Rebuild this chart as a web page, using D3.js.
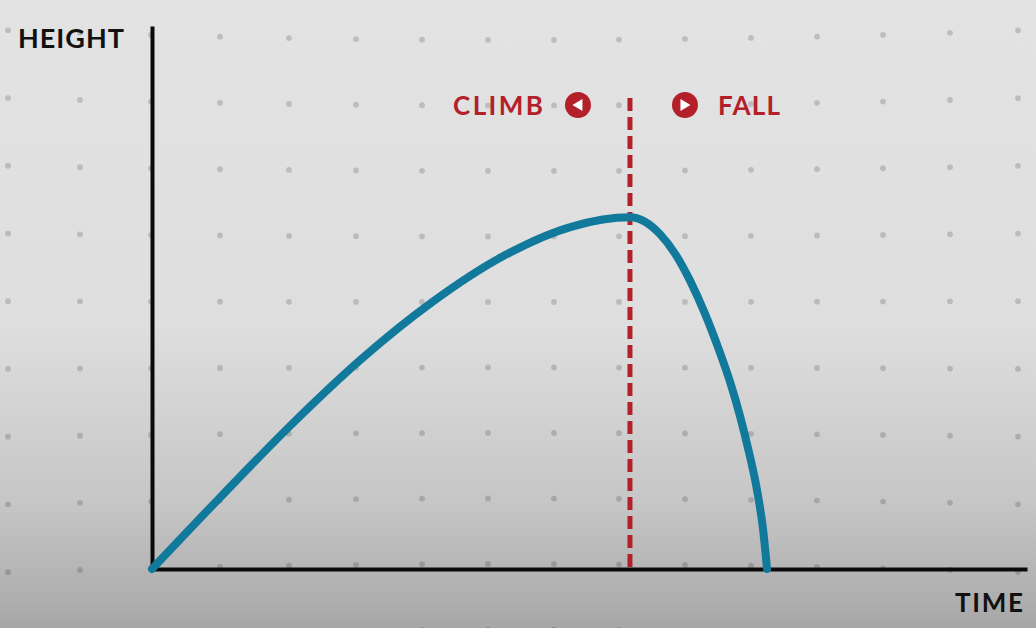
<!DOCTYPE html>
<html>
<head>
<meta charset="utf-8">
<script src="https://cdn.jsdelivr.net/npm/d3@7"></script>
<style>
  html, body { margin: 0; padding: 0; overflow: hidden; background: #e2e2e2; }
  svg { display: block; }
  text { font-family: Lato, "Open Sans", sans-serif; font-weight: 700; }
</style>
</head>
<body>
<svg id="chart" width="1036" height="628"></svg>
<script>
// ---- data (time and height in % of axis extent) ----
const timeVals   = [0, 8.02, 16.04, 24.05, 32.07, 40.09, 48.11, 54.75,
                    56.47, 58.19, 59.91, 61.63, 63.34, 64.83, 66.21, 67.35, 68.38, 69.30, 69.99, 70.45];
const heightVals = [0, 13.6, 26.8, 38.9, 49.3, 57.7, 63.3, 65.0,
                    64.2, 61.9, 58.3, 53.3, 47.2, 41.0, 34.6, 28.3, 21.6, 14.6, 7.4, 0];
const axisTitles  = ["HEIGHT", "TIME"];
const phaseLabels = ["CLIMB", "FALL"];

const W = 1036, H = 628;
const svg = d3.select("#chart");

// background gradient
const defs = svg.append("defs");
const grad = defs.append("linearGradient").attr("id", "bg").attr("x1", 0).attr("y1", 0).attr("x2", 0).attr("y2", 1);
grad.append("stop").attr("offset", "0%").attr("stop-color", "#e3e3e3");
grad.append("stop").attr("offset", "52%").attr("stop-color", "#dedede");
grad.append("stop").attr("offset", "80%").attr("stop-color", "#c6c6c6");
grad.append("stop").attr("offset", "100%").attr("stop-color", "#a7a7a7");
svg.append("rect").attr("width", W).attr("height", H).attr("fill", "url(#bg)");

// decorative dot grid (slightly lens-bowed like the source)
const gridCols = [8, 80, 151, 220, 289, 356, 422, 488, 554, 619, 685, 751, 817, 883, 950, 1018];
const dots = [];
for (let r = 0; r < 10; r++) {
  const base = 30 + 67.8 * r;
  const sag = 10 - 2.3 * r;
  gridCols.forEach(cx => {
    const u = (cx - 515) / 515;
    dots.push([cx, base + sag * (1 - u * u)]);
  });
}
svg.append("g").selectAll("circle").data(dots).join("circle")
  .attr("cx", d => d[0]).attr("cy", d => d[1]).attr("r", 2.9)
  .attr("fill", "rgba(0,0,0,0.16)");

// scales
const x = d3.scaleLinear().domain([0, 100]).range([152, 1025]);
const y = d3.scaleLinear().domain([0, 100]).range([569, 28]);

// axes (lines only)
const xAxis = svg.append("g").attr("transform", `translate(0,${y(0)})`)
  .call(d3.axisBottom(x).tickValues([]).tickSizeOuter(0));
const yAxis = svg.append("g").attr("transform", `translate(${x(0)},0)`)
  .call(d3.axisLeft(y).tickValues([]).tickSizeOuter(0));
[xAxis, yAxis].forEach(g => g.select(".domain")
  .attr("stroke", "#0a0a0a").attr("stroke-width", 4).attr("stroke-linecap", "square"));

// peak
const peakIdx = heightVals.indexOf(d3.max(heightVals));
const peakT = timeVals[peakIdx];

const red = "#b3202a";

// dashed divider at peak
svg.append("line")
  .attr("x1", x(peakT)).attr("x2", x(peakT))
  .attr("y1", 98).attr("y2", y(0))
  .attr("stroke", red).attr("stroke-width", 5)
  .attr("stroke-dasharray", "13,6");

// trajectory
const pts = timeVals.map((t, i) => [t, heightVals[i]]);
svg.append("path").datum(pts)
  .attr("fill", "none").attr("stroke", "#11799b").attr("stroke-width", 8)
  .attr("stroke-linecap", "round").attr("stroke-linejoin", "round")
  .attr("d", d3.line().x(d => x(d[0])).y(d => y(d[1])).curve(d3.curveMonotoneX));

// axis titles
svg.append("text").attr("x", 18).attr("y", 48).attr("font-size", 27)
  .attr("fill", "#111").attr("textLength", 106).attr("lengthAdjust", "spacing").text(axisTitles[0]);
svg.append("text").attr("x", 1023).attr("y", 612).attr("font-size", 26).attr("text-anchor", "end")
  .attr("fill", "#111").attr("textLength", 68).attr("lengthAdjust", "spacing").text(axisTitles[1]);

// phase labels
const px = x(peakT);
svg.append("text").attr("x", px - 87).attr("y", 115).attr("font-size", 26).attr("text-anchor", "end")
  .attr("fill", red).attr("textLength", 90).attr("lengthAdjust", "spacing").text(phaseLabels[0]);
svg.append("text").attr("x", px + 88).attr("y", 115).attr("font-size", 26)
  .attr("fill", red).attr("textLength", 62).attr("lengthAdjust", "spacing").text(phaseLabels[1]);

// circle icons
function icon(cx, dir) {
  const g = svg.append("g").attr("transform", `translate(${cx},105)`);
  g.append("circle").attr("r", 13).attr("fill", red);
  const s = 6;
  const tri = dir < 0
    ? `M${-s + 0.5},0 L${s - 1.5},${-s} L${s - 1.5},${s} Z`
    : `M${s - 0.5},0 L${-s + 1.5},${-s} L${-s + 1.5},${s} Z`;
  g.append("path").attr("d", tri).attr("fill", "#ffffff");
}
icon(px - 52, -1);
icon(px + 55, 1);
</script>
</body>
</html>
